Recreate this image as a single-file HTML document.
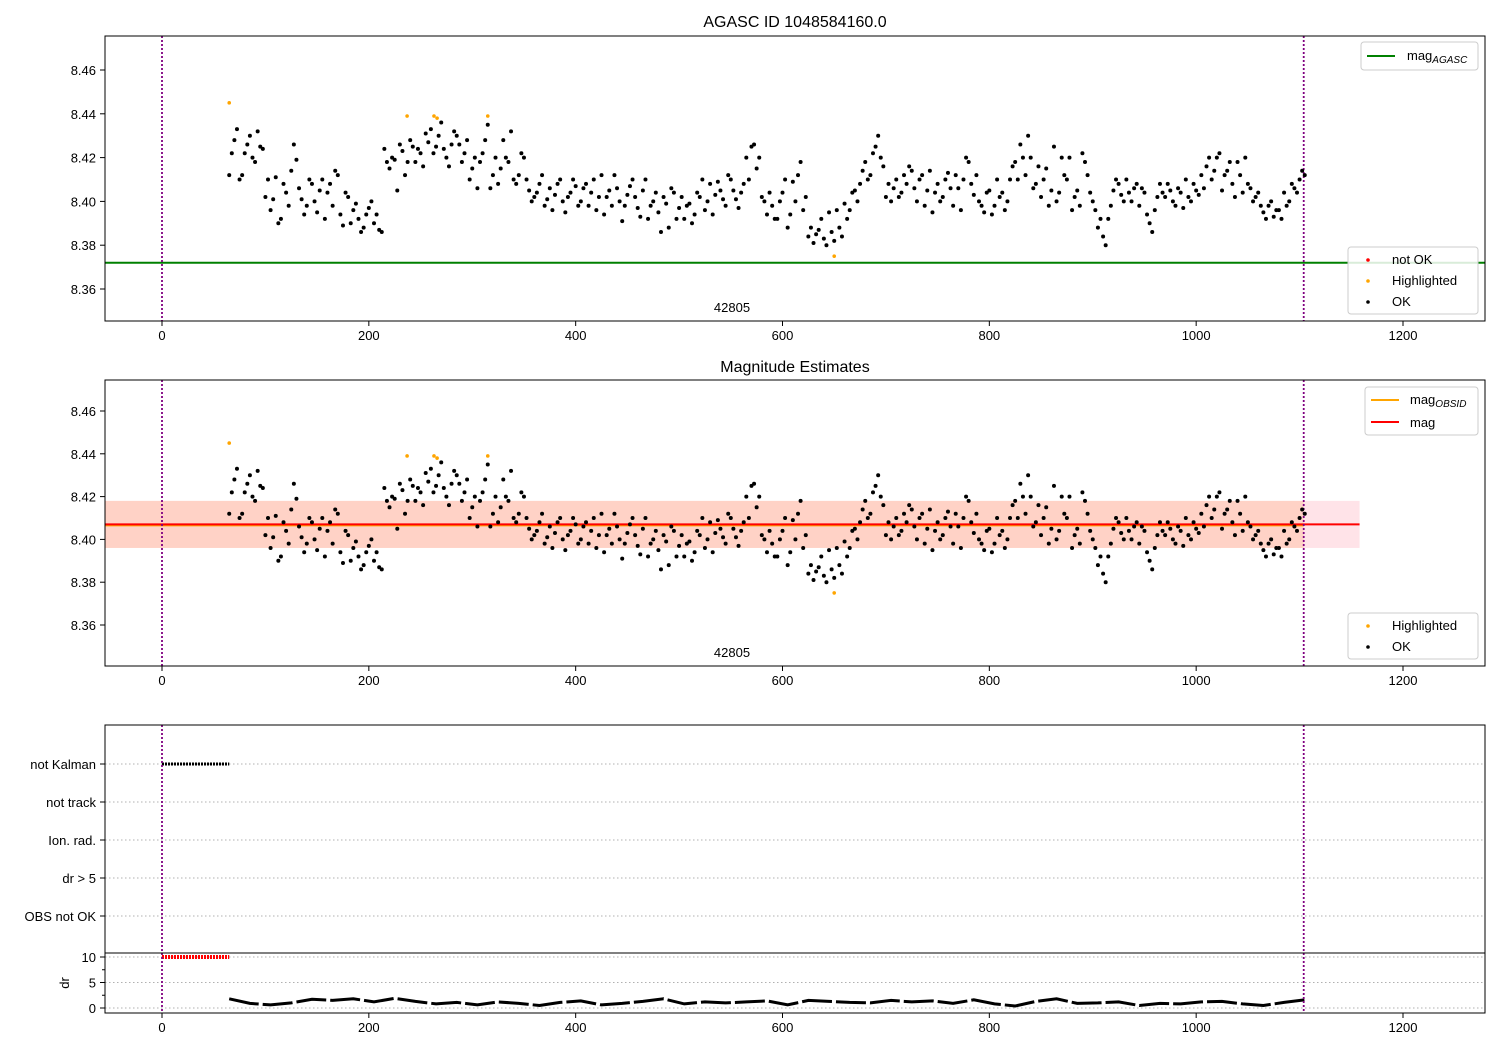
<!DOCTYPE html>
<html><head><meta charset="utf-8">
<style>
body{margin:0;background:#fff;}
svg{display:block;font-family:"Liberation Sans","DejaVu Sans",sans-serif;}
</style></head>
<body>
<svg id="chart" width="1500" height="1050" viewBox="0 0 1500 1050" xmlns="http://www.w3.org/2000/svg"></svg>
<script>
// ---- data ----
const timeStart = 65;
const timeStep = 5;
const okMags = [
8.412,8.428,8.410,8.422,8.430,8.418,8.425,8.402,
8.396,8.411,8.392,8.404,8.414,8.419,8.401,8.398,8.408,8.395,8.410,8.404,8.398,8.412,8.389,8.402,8.396,8.392,8.388,8.397,
8.390,8.387,8.424,8.415,8.419,8.426,8.412,8.428,8.418,8.422,8.431,8.433,
8.425,8.436,8.420,8.426,8.430,8.418,8.428,8.415,8.406,8.422,8.435,8.412,
8.408,8.428,8.418,8.410,8.412,8.420,8.405,8.402,8.408,8.398,8.406,8.403,8.410,8.395,8.404,8.407,
8.400,8.408,8.404,8.396,8.412,8.402,8.398,8.406,8.391,8.403,8.410,8.397,8.405,8.392,8.400,8.395,8.402,8.388,8.404,8.397,
8.392,8.399,8.394,8.402,8.396,8.408,8.403,8.405,8.398,8.410,8.401,8.404,
8.420,8.425,8.415,8.402,8.394,8.398,8.392,8.404,8.388,8.409,8.412,8.396,
8.384,8.381,8.387,8.383,8.395,8.382,8.388,8.399,8.396,
8.405,8.408,8.418,8.412,8.425,8.420,8.402,
8.400,8.410,8.404,8.408,8.414,8.400,8.412,8.405,8.395,8.408,8.402,8.413,8.398,8.406,8.410,8.418,8.403,8.400,8.395,8.405,8.398,8.402,8.396,8.410,
8.418,8.426,8.412,8.420,8.408,8.402,8.415,8.405,8.400,8.420,8.410,8.396,
8.405,8.422,8.412,8.400,8.388,8.384,8.392,8.405,
8.408,8.400,8.404,8.406,8.398,8.404,8.390,8.396,
8.408,8.402,8.405,8.398,8.404,8.410,8.400,8.405,
8.412,8.416,8.410,8.420,8.405,8.414,8.408,8.418,8.404,8.408,
8.400,8.404,8.395,8.398,8.393,8.396,8.404,8.400,8.406,8.410,8.412
];
const timeStart2 = 67.5;
const okMags2 = [
8.422,8.433,8.412,8.426,8.420,8.432,8.424,8.410,
8.401,8.390,8.408,8.398,8.426,8.406,8.394,8.410,8.400,8.405,8.392,8.408,8.414,8.394,8.404,8.390,8.399,8.386,8.394,8.400,
8.394,8.386,8.418,8.420,8.405,8.423,8.418,8.425,8.424,8.416,8.427,8.422,
8.430,8.424,8.416,8.432,8.426,8.422,8.410,8.420,8.418,8.428,8.406,8.420,
8.415,8.420,8.432,8.408,8.422,8.410,8.400,8.404,8.412,8.401,8.396,8.408,8.400,8.402,8.410,8.398,
8.406,8.398,8.410,8.402,8.394,8.405,8.412,8.400,8.398,8.407,8.402,8.393,8.410,8.398,8.404,8.386,8.399,8.406,8.392,8.402,
8.398,8.390,8.404,8.410,8.400,8.394,8.409,8.401,8.412,8.405,8.397,8.408,
8.410,8.426,8.420,8.400,8.404,8.392,8.400,8.410,8.394,8.400,8.418,8.402,
8.388,8.385,8.392,8.380,8.386,8.396,8.384,8.392,8.404,
8.400,8.414,8.410,8.422,8.430,8.416,8.408,
8.406,8.402,8.412,8.416,8.406,8.410,8.398,8.414,8.404,8.400,8.410,8.406,8.412,8.396,8.420,8.408,8.412,8.398,8.404,8.394,8.410,8.404,8.400,8.416,
8.410,8.420,8.430,8.406,8.416,8.410,8.398,8.425,8.404,8.412,8.420,8.402,
8.398,8.418,8.404,8.396,8.392,8.380,8.398,8.410,
8.403,8.410,8.400,8.408,8.406,8.394,8.386,8.402,
8.404,8.408,8.400,8.406,8.397,8.402,8.408,8.403,
8.406,8.420,8.414,8.422,8.412,8.418,8.402,8.412,8.420,8.406,
8.402,8.398,8.392,8.400,8.396,8.392,8.398,8.408,8.404,8.414
];
const hiTimes = [65, 237, 263, 266, 315, 650];
const hiMags = [8.445, 8.439, 8.439, 8.438, 8.439, 8.375];
const magAgasc = 8.372;
const magObsid = 8.407;
const magBandLow = 8.396;
const magBandHigh = 8.418;
const drStart = 65;
const drStep = 20;
const drValues = [1.8,0.9,0.6,1.0,1.7,1.5,1.8,1.2,1.9,1.3,0.8,1.1,0.6,1.2,0.9,0.5,1.1,1.4,0.6,0.9,1.3,1.8,0.8,1.2,1.0,1.2,1.4,0.6,1.5,1.3,1.1,1.0,1.5,1.2,1.4,0.9,1.6,0.8,0.4,1.3,1.8,0.9,1.0,1.2,0.5,0.9,0.8,1.2,1.3,0.8,0.5,1.1,1.6];
const flagCategories = ["not Kalman","not track","Ion. rad.","dr > 5","OBS not OK"];
const xTicks = [0,200,400,600,800,1000,1200];
const magTicks = [8.36,8.38,8.40,8.42,8.44,8.46];
const drTicks = [0,5,10];
const notKalmanRange = [0, 65];
const obsStart = 0, obsEnd = 1104;

// ---- helpers ----
const NS = "http://www.w3.org/2000/svg";
const svg = document.getElementById("chart");
function mk(tag, attrs, parent){ const e=document.createElementNS(NS,tag); for(const k in attrs) e.setAttribute(k,attrs[k]); (parent||svg).appendChild(e); return e; }
const X0=105, X1=1485;
const xs = t => 162 + t*(1403-162)/1200;
function magScale(yTop, yA, yB){
  return m => yA + (8.46-m)*(yB-yA)/0.10;
}
function frame(g, top, bottom){
  mk("rect",{x:X0,y:top,width:X1-X0,height:bottom-top,fill:"none",stroke:"#000","stroke-width":1},g);
}
function xAxis(g, bottom){
  xTicks.forEach(t=>{
    const x=xs(t);
    mk("line",{x1:x,x2:x,y1:bottom,y2:bottom+5,stroke:"#000"},g);
    const tx=mk("text",{x:x,y:bottom+19,"text-anchor":"middle","font-size":13},g);
    tx.textContent=t;
    
    
  });
}
function yMagAxis(g, ys){
  magTicks.forEach(m=>{
    const y=ys(m);
    mk("line",{x1:X0-5,x2:X0,y1:y,y2:y,stroke:"#000"},g);
    const tx=mk("text",{x:X0-9,y:y+5,"text-anchor":"end","font-size":13},g);
    tx.textContent=m.toFixed(2);
    
    
  });
}
function vlines(g, top, bottom){
  [obsStart, obsEnd].forEach(t=>{
    const l=mk("line",{x1:xs(t),x2:xs(t),y1:top,y2:bottom,stroke:"#800080","stroke-width":1.8,"stroke-dasharray":"2,2"},g);
    
    
  });
}
function points(g, ys, color){
  okMags.forEach((m,i)=>{
    const c=mk("circle",{cx:xs(timeStart+i*timeStep),cy:ys(m),r:2,fill:color},g);
    
    
  });
  okMags2.forEach((m,i)=>{
    const c=mk("circle",{cx:xs(timeStart2+i*timeStep),cy:ys(m),r:2,fill:color},g);
    
    
  });
  hiTimes.forEach((t,i)=>{
    const c=mk("circle",{cx:xs(t),cy:ys(hiMags[i]),r:1.8,fill:"orange"},g);
    
    
  });
}
function legendBox(g,x,y,w,h){
  mk("rect",{x:x,y:y,width:w,height:h,rx:3,fill:"#fff","fill-opacity":0.85,stroke:"#ccc"},g);
}
function txt(g,x,y,s,size,anchor,name){
  const t=mk("text",{x:x,y:y,"font-size":size,"text-anchor":anchor||"start"},g);
  t.textContent=s;
  
  
  return t;
}

// ---- panel 1 ----
{
  const g=mk("g",{});
  
  
  const top=36,bottom=321, ys=magScale(top,70,289);
  txt(g,795,27,"AGASC ID 1048584160.0",16,"middle","panel-title");
  const al=mk("line",{x1:X0,x2:X1,y1:ys(magAgasc),y2:ys(magAgasc),stroke:"green","stroke-width":2},g);
  
  
  vlines(g,top,bottom);
  points(g,ys,"#000");
  txt(g,732,312,"42805",13,"middle","obsid-label");
  frame(g,top,bottom); xAxis(g,bottom); yMagAxis(g,ys);
  const lg=mk("g",{},g);
  
  
  legendBox(lg,1361,42,117,28);
  mk("line",{x1:1367,x2:1395,y1:56,y2:56,stroke:"green","stroke-width":2},lg);
  const t=txt(lg,1407,60,"mag",13,"start","legend-entry-mag-agasc");
  const s=mk("tspan",{"font-size":10,"font-style":"italic",dy:3},t); s.textContent="AGASC";
  const lg2=mk("g",{},g);
  
  
  legendBox(lg2,1348,247,130,67);
  mk("circle",{cx:1368,cy:260,r:1.8,fill:"red"},lg2);
  txt(lg2,1392,264,"not OK",13,"start","legend-entry-not-ok");
  mk("circle",{cx:1368,cy:281,r:1.8,fill:"orange"},lg2);
  txt(lg2,1392,285,"Highlighted",13,"start","legend-entry-highlighted");
  mk("circle",{cx:1368,cy:302,r:1.8,fill:"#000"},lg2);
  txt(lg2,1392,306,"OK",13,"start","legend-entry-ok");
}

// ---- panel 2 ----
{
  const g=mk("g",{});
  
  
  const top=380,bottom=666, ys=magScale(top,411,625);
  txt(g,795,372,"Magnitude Estimates",16,"middle","panel-title");
  const b1=mk("rect",{x:X0,y:ys(magBandHigh),width:xs(1158)-X0,height:ys(magBandLow)-ys(magBandHigh),fill:"#ffc0cb","fill-opacity":0.45},g);
  
  
  const b2=mk("rect",{x:X0,y:ys(magBandHigh),width:xs(obsEnd)-X0,height:ys(magBandLow)-ys(magBandHigh),fill:"#ffa060","fill-opacity":0.25},g);
  
  
  const ol=mk("line",{x1:X0,x2:xs(obsEnd),y1:ys(magObsid)+1,y2:ys(magObsid)+1,stroke:"orange","stroke-width":2},g);
  
  
  const ml=mk("line",{x1:X0,x2:xs(1158),y1:ys(magObsid),y2:ys(magObsid),stroke:"red","stroke-width":2},g);
  
  
  vlines(g,top,bottom);
  points(g,ys,"#000");
  txt(g,732,657,"42805",13,"middle","obsid-label");
  frame(g,top,bottom); xAxis(g,bottom); yMagAxis(g,ys);
  const lg=mk("g",{},g);
  
  
  legendBox(lg,1365,387,113,48);
  mk("line",{x1:1371,x2:1399,y1:400,y2:400,stroke:"orange","stroke-width":2},lg);
  const t=txt(lg,1410,404,"mag",13,"start","legend-entry-mag-obsid");
  const s=mk("tspan",{"font-size":10,"font-style":"italic",dy:3},t); s.textContent="OBSID";
  mk("line",{x1:1371,x2:1399,y1:422,y2:422,stroke:"red","stroke-width":2},lg);
  txt(lg,1410,427,"mag",13,"start","legend-entry-mag");
  const lg2=mk("g",{},g);
  
  
  legendBox(lg2,1348,613,130,46);
  mk("circle",{cx:1368,cy:626,r:1.8,fill:"orange"},lg2);
  txt(lg2,1392,630,"Highlighted",13,"start","legend-entry-highlighted");
  mk("circle",{cx:1368,cy:647,r:1.8,fill:"#000"},lg2);
  txt(lg2,1392,651,"OK",13,"start","legend-entry-ok");
}

// ---- panel 3 ----
{
  const g=mk("g",{});
  
  
  const top=725, mid=953, bottom=1013;
  const catY = i => 764 + i*38;
  flagCategories.forEach((c,i)=>{
    const y=catY(i);
    mk("line",{x1:X0,x2:X1,y1:y,y2:y,stroke:"#b0b0b0","stroke-dasharray":"1.5,2.5"},g);
    mk("line",{x1:X0-5,x2:X0,y1:y,y2:y,stroke:"#000"},g);
    txt(g,X0-9,y+5,c,13,"end","flag-label");
  });
  const nk=mk("line",{x1:xs(notKalmanRange[0]),x2:xs(notKalmanRange[1]),y1:catY(0),y2:catY(0),stroke:"#000","stroke-width":3,"stroke-dasharray":"2,1"},g);
  
  
  const drY = v => 1008 - v*(1008-957)/10;
  drTicks.forEach(v=>{
    mk("line",{x1:X0,x2:X1,y1:drY(v),y2:drY(v),stroke:"#b0b0b0","stroke-dasharray":"1.5,2.5"},g);
    mk("line",{x1:X0-5,x2:X0,y1:drY(v),y2:drY(v),stroke:"#000"},g);
    txt(g,X0-9,drY(v)+5,String(v),13,"end","dr-tick-label");
  });
  [2.5,7.5].forEach(v=>mk("line",{x1:X0-3,x2:X0,y1:drY(v),y2:drY(v),stroke:"#000"},g));
  const yt=mk("text",{x:0,y:0,"font-size":13,"text-anchor":"middle",transform:"translate(69,983) rotate(-90)"},g);
  yt.textContent="dr";
  
  
  const dr5=mk("line",{x1:xs(notKalmanRange[0]),x2:xs(notKalmanRange[1]),y1:drY(10),y2:drY(10),stroke:"red","stroke-width":4,"stroke-dasharray":"2,1"},g);
  
  
  const pts=drValues.map((v,i)=>xs(drStart+i*drStep).toFixed(1)+","+drY(v).toFixed(1)).join(" ");
  const pl=mk("polyline",{points:pts,fill:"none",stroke:"#000","stroke-width":3,"stroke-dasharray":"30,4"},g);
  
  
  vlines(g,top,bottom);
  frame(g,top,bottom);
  mk("line",{x1:X0,x2:X1,y1:mid,y2:mid,stroke:"#000"},g);
  xTicks.forEach(t=>{
    mk("line",{x1:xs(t),x2:xs(t),y1:bottom,y2:bottom+5,stroke:"#000"},g);
    txt(g,xs(t),bottom+19,String(t),13,"middle","x-tick-label");
  });
}
</script>
</body></html>
